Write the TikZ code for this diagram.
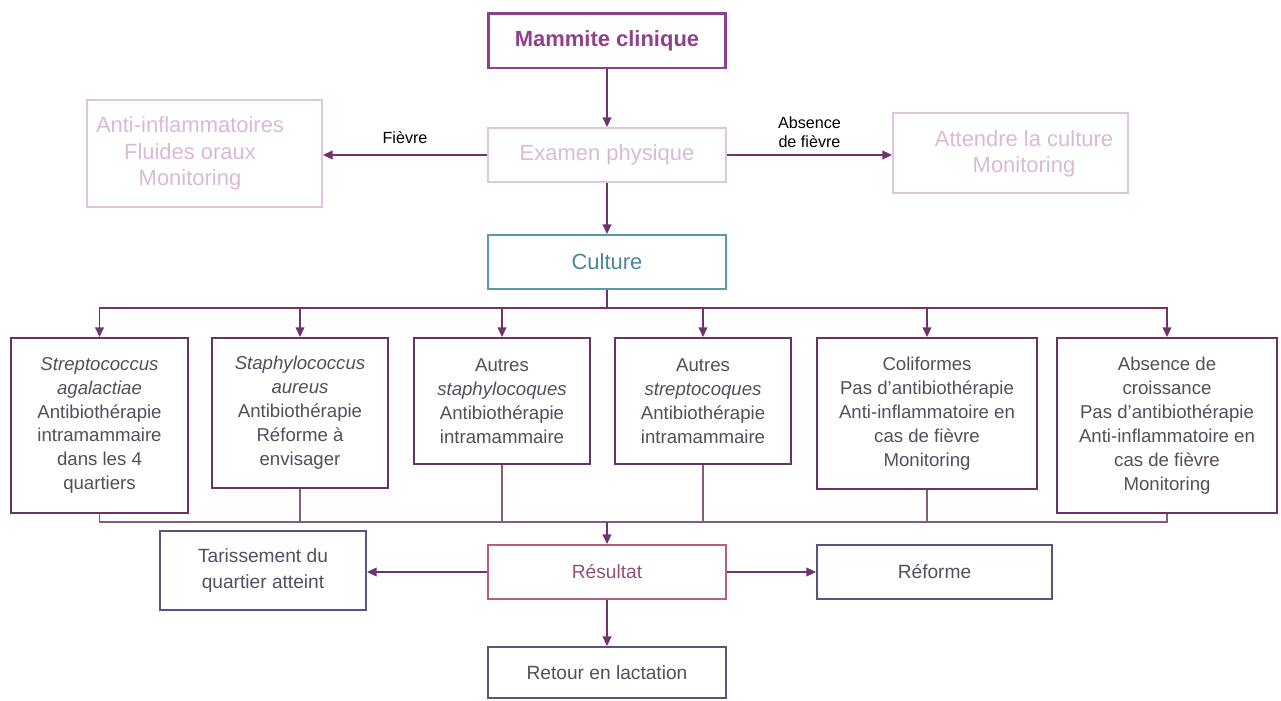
\documentclass[tikz,border=0pt]{standalone}
\usepackage{fontspec}
\setmainfont{Liberation Sans}
\usetikzlibrary{arrows.meta,positioning,calc}
\definecolor{MammPurple}{RGB}{142, 66, 140}
\definecolor{LightPink}{RGB}{224, 196, 224}
\definecolor{LightText}{RGB}{216, 186, 216}
\definecolor{ArrowPurple}{RGB}{112, 50, 112}
\definecolor{CultureTeal}{RGB}{92, 152, 172}
\definecolor{TealText}{RGB}{74, 134, 154}
\definecolor{BoxPurple}{RGB}{104, 52, 104}
\definecolor{BoxText}{RGB}{86, 76, 92}
\definecolor{LinePurple}{RGB}{132, 92, 132}
\definecolor{ResultPink}{RGB}{184, 92, 130}
\definecolor{ResultText}{RGB}{150, 80, 118}
\definecolor{NavyBox}{RGB}{86, 86, 130}
\definecolor{NavyText}{RGB}{80, 80, 96}

\tikzset{
  bigfont/.style={font=\fontsize{12.5}{15}\selectfont},
  smallfont/.style={font=\fontsize{10.6}{13.6}\selectfont},
  box/.style={draw, align=center, inner sep=2pt, line width=1.1pt},
  titlebox/.style={box, bigfont, draw=MammPurple, text=MammPurple, line width=1.7pt,
    minimum width=4.76cm, minimum height=1.1cm},
  lightbox/.style={box, bigfont, draw=LightPink, text=LightText},
  lighttext/.style={bigfont, text=LightText, align=center, inner sep=0pt},
  culturebox/.style={box, bigfont, draw=CultureTeal, text=TealText,
    minimum width=4.76cm, minimum height=1.08cm},
  germbox/.style={box, smallfont, anchor=north, draw=BoxPurple, text=BoxText},
  resultbox/.style={box, font=\fontsize{10.9}{15.3}\selectfont, draw=ResultPink, text=ResultText},
  outbox/.style={box, font=\fontsize{10.9}{15.3}\selectfont, draw=NavyBox, text=NavyText},
  lbl/.style={font=\fontsize{9.2}{10.8}\selectfont, align=center, inner sep=2pt},
  arr/.style={draw=ArrowPurple, line width=0.75pt, -{Triangle[length=5.5pt, width=5pt]}},
  link/.style={draw=LinePurple, line width=0.75pt}
}

\begin{document}
\begin{tikzpicture}[x=0.02cm, y=-0.02cm]
  \useasboundingbox (0,0) rectangle (1281,700);

  % Top of the chart
  \node[titlebox] (mammite) at (607,40.5) {\textbf{Mammite clinique}};
  \node[lightbox, minimum width=4.76cm, minimum height=1.08cm] (examen) at (607,155) {Examen physique};
  \node[lightbox, minimum width=4.7cm, minimum height=2.14cm] (anti) at (204.5,153.5) {};
  \node[lighttext] (antitext) at (190,153.5) {Anti-inflammatoires\\Fluides oraux\\Monitoring};
  \node[lightbox, minimum width=4.7cm, minimum height=1.6cm] (attendre) at (1010.5,153) {};
  \node[lighttext] (attendretext) at (1024,154) {Attendre la culture\\Monitoring};
  \node[culturebox] (culture) at (607,262) {Culture};

  \draw[arr] (mammite) -- (examen);
  \draw[arr] (examen.west) -- node[lbl, above=4pt] (fievre) {Fièvre} (examen.west -| anti.east);
  \draw[arr] (examen.east) -- node[lbl, above=2pt] (absfievre) {Absence\\de fièvre} (examen.east -| attendre.west);
  \draw[arr] (examen) -- (culture);

  % Culture results
  \node[germbox, minimum width=3.54cm, minimum height=3.5cm] (g1) at (99.5,337)
    {\textit{Streptococcus}\\\textit{agalactiae}\\Antibiothérapie\\intramammaire\\dans les 4\\quartiers};
  \node[germbox, minimum width=3.52cm, minimum height=3.0cm] (g2) at (300,337)
    {\textit{Staphylococcus}\\\textit{aureus}\\Antibiothérapie\\Réforme à\\envisager};
  \node[germbox, minimum width=3.52cm, minimum height=2.52cm] (g3) at (502,337)
    {Autres\\\textit{staphylocoques}\\Antibiothérapie\\intramammaire};
  \node[germbox, minimum width=3.52cm, minimum height=2.52cm] (g4) at (703,337)
    {Autres\\\textit{streptocoques}\\Antibiothérapie\\intramammaire};
  \node[germbox, minimum width=4.4cm, minimum height=3.02cm] (g5) at (927,337)
    {Coliformes\\Pas d’antibiothérapie\\Anti-inflammatoire en\\cas de fièvre\\Monitoring};
  \node[germbox, minimum width=4.4cm, minimum height=3.5cm] (g6) at (1167,337)
    {Absence de\\croissance\\Pas d’antibiothérapie\\Anti-inflammatoire en\\cas de fièvre\\Monitoring};

  \coordinate (topbus) at (607,308);
  \coordinate (lowbus) at (607,522);
  \foreach \g in {1,...,6} {
    \draw[arr] (culture.south) -- (topbus) -| (g\g.north);
    \draw[link] (g\g.south) |- (lowbus);
  }

  % Outcome
  \node[resultbox, minimum width=4.76cm, minimum height=1.08cm] (resultat) at (607,572) {Résultat};
  \node[outbox, minimum width=4.12cm, minimum height=1.58cm] (tarissement) at (263,570.5)
    {Tarissement du\\quartier atteint};
  \node[outbox, minimum width=4.7cm, minimum height=1.08cm] (reforme) at (934.5,572) {Réforme};
  \node[outbox, minimum width=4.76cm, minimum height=1.02cm] (retour) at (607,672.5) {Retour en lactation};

  \draw[arr] (lowbus) -- (resultat);
  \draw[arr] (resultat.west) -- (resultat.west -| tarissement.east);
  \draw[arr] (resultat.east) -- (reforme.west);
  \draw[arr] (resultat) -- (retour);
\end{tikzpicture}
\end{document}
